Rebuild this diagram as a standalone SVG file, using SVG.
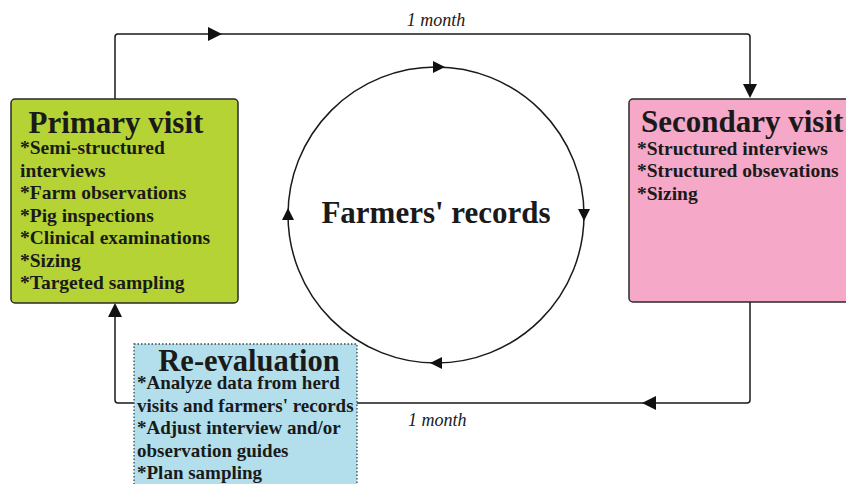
<svg xmlns="http://www.w3.org/2000/svg" width="846" height="484" viewBox="0 0 846 484">
<defs>
<style>
.ln{fill:none;stroke:#1a1a1a;stroke-width:1.5}
.ah{fill:#111}
.t{font-family:"Liberation Serif","Times New Roman",serif;font-weight:bold;fill:#1a1a1a}
.h{font-size:31px}
.b{font-size:19.5px}
.lbl{font-family:"Liberation Serif","Times New Roman",serif;font-style:italic;font-size:18px;fill:#1a1a1a}
</style>
<path id="arrow" d="M0,0 L-14,-7 L-14,7 Z"/>
<path id="arrowS" d="M0,0 L-12,-6 L-12,6 Z"/>
</defs>
<rect width="846" height="484" fill="#ffffff"/>
<g id="connectors">
<path class="ln" d="M115,99 V37 Q115,34 118,34 H747 Q750,34 750,37 V90"/>
<path class="ln" d="M750,302 V400 Q750,403 747,403 H118 Q115,403 115,400 V312"/>
<use href="#arrow" class="ah" transform="translate(222,34)"/>
<use href="#arrow" class="ah" transform="translate(750,98) rotate(90)"/>
<use href="#arrow" class="ah" transform="translate(642,403) rotate(180)"/>
<use href="#arrow" class="ah" transform="translate(115,303) rotate(-90)"/>
<text class="lbl" x="436" y="26" text-anchor="middle">1 month</text>
<text class="lbl" x="408" y="426">1 month</text>
</g>
<g id="farmers-records">
<circle class="ln" cx="436" cy="215" r="148"/>
<use href="#arrowS" class="ah" transform="translate(445,67)"/>
<use href="#arrowS" class="ah" transform="translate(584,221) rotate(90)"/>
<use href="#arrowS" class="ah" transform="translate(430,363) rotate(180)"/>
<use href="#arrowS" class="ah" transform="translate(288,208) rotate(-90)"/>
<text class="t h" x="436" y="223" text-anchor="middle">Farmers' records</text>
</g>
<g id="primary-visit">
<rect x="11" y="99" width="227" height="204" rx="4" fill="#b5d334" stroke="#2a2a2a" stroke-width="1.5"/>
<text class="t h" x="116" y="133" text-anchor="middle">Primary visit</text>
<text class="t b" x="20" y="154">*Semi-structured</text>
<text class="t b" x="20" y="176.5">interviews</text>
<text class="t b" x="20" y="199">*Farm observations</text>
<text class="t b" x="20" y="221.5">*Pig inspections</text>
<text class="t b" x="20" y="244">*Clinical examinations</text>
<text class="t b" x="20" y="266.5">*Sizing</text>
<text class="t b" x="20" y="289">*Targeted sampling</text>
</g>
<g id="secondary-visit">
<rect x="629" y="99" width="230" height="203" rx="4" fill="#f5a8c7" stroke="#2a2a2a" stroke-width="1.5"/>
<text class="t h" x="641" y="132">Secondary visit</text>
<text class="t b" x="637" y="155">*Structured interviews</text>
<text class="t b" x="637" y="177">*Structured obsevations</text>
<text class="t b" x="637" y="200">*Sizing</text>
</g>
<g id="re-evaluation">
<rect x="134" y="344" width="223" height="150" fill="#b2dfeb" stroke="#444" stroke-width="1.3" stroke-dasharray="1.5 2"/>
<text class="t" font-size="30.5" x="249" y="371" text-anchor="middle">Re-evaluation</text>
<text class="t" font-size="19" x="137" y="389">*Analyze data from herd</text>
<text class="t" font-size="19" x="137" y="411.5">visits and farmers' records</text>
<text class="t" font-size="19" x="137" y="434">*Adjust interview and/or</text>
<text class="t" font-size="19" x="137" y="456.5">observation guides</text>
<text class="t" font-size="19" x="137" y="479">*Plan sampling</text>
</g>
</svg>
